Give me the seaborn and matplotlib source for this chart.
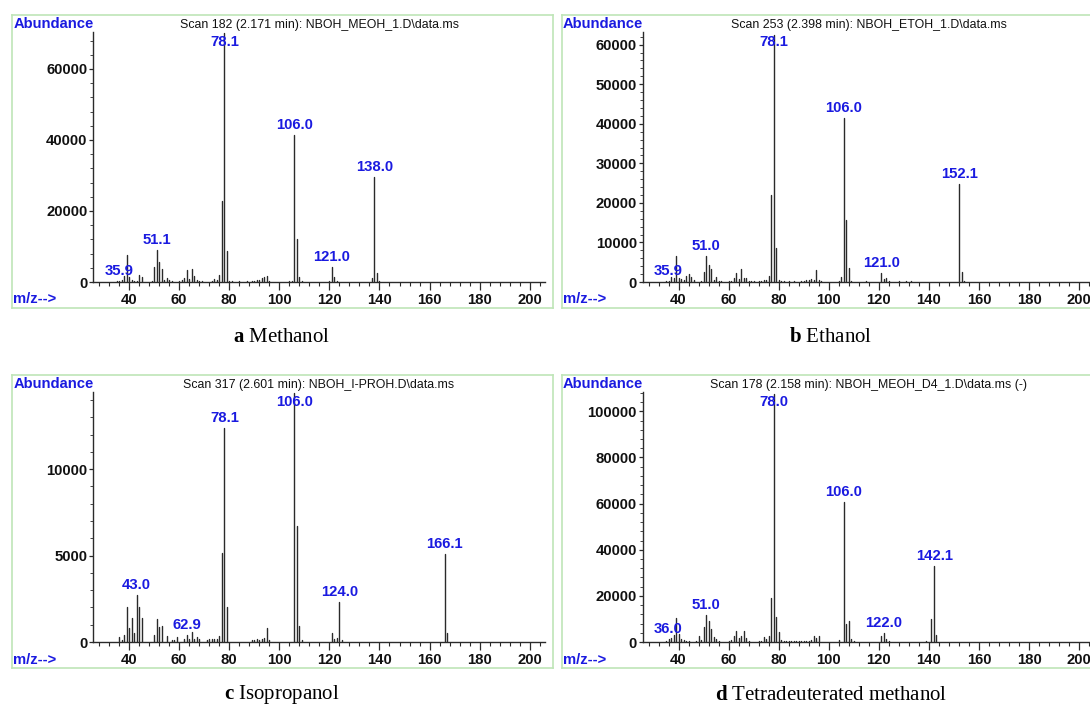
import matplotlib
matplotlib.use("Agg")
import matplotlib.pyplot as plt
from matplotlib.ticker import MultipleLocator, AutoMinorLocator, StrMethodFormatter
import numpy as np
import pandas as pd
import seaborn as sns

# ---------------- data ----------------
# (a) Methanol
mz_a = [35, 36, 37, 38, 39, 40, 41, 42, 43, 44, 45, 49, 50, 51, 52, 53, 54, 55, 56, 57,
        60, 61, 62, 63, 64, 65, 66, 67, 68, 69, 73, 74, 75, 76, 77, 78, 79, 80, 81, 84,
        87, 89, 90, 91, 92, 93, 94, 95, 96, 104, 105, 106, 107, 108, 109, 120, 121, 122,
        123, 137, 138, 139, 140]
ab_a = [200, 300, 600, 1600, 7500, 1400, 600, 400, 300, 2000, 1400, 200, 4100, 9000, 5700,
        3700, 600, 1000, 500, 200, 200, 600, 1200, 3500, 800, 3800, 1800, 700, 300, 300,
        300, 850, 600, 1900, 22900, 70000, 8600, 300, 200, 200, 200, 300, 400, 700, 500,
        1000, 1400, 1600, 300, 400, 300, 41500, 12200, 1300, 300, 200, 4100, 1500, 400,
        1200, 29600, 2600, 300]
labels_a = [35.9, 51.1, 78.1, 106.0, 121.0, 138.0]
title_a = "Scan 182 (2.171 min): NBOH_MEOH_1.D\\data.ms"

# (b) Ethanol
mz_b = [35, 36, 37, 38, 39, 40, 41, 42, 43, 44, 45, 46, 49, 50, 51, 52, 53, 54, 55, 56, 57,
        60, 61, 62, 63, 64, 65, 66, 67, 68, 69, 70, 72, 73, 74, 75, 76, 77, 78, 79, 80, 81,
        82, 84, 86, 89, 90, 91, 92, 93, 94, 95, 96, 97, 104, 105, 106, 107, 108, 109, 115,
        121, 122, 123, 124, 128, 131, 133, 152, 153, 154]
ab_b = [200, 300, 1200, 900, 6500, 1000, 800, 500, 1500, 2100, 1200, 400, 300, 2500, 6600,
        4200, 3400, 600, 1350, 300, 200, 200, 300, 900, 2400, 700, 3200, 1100, 900, 300,
        300, 300, 200, 300, 500, 400, 1400, 21900, 62500, 8600, 400, 300, 200, 200, 200,
        300, 300, 600, 400, 800, 600, 3000, 400, 200, 300, 1300, 41500, 15800, 3500, 300,
        200, 2200, 700, 900, 300, 200, 200, 200, 24800, 2500, 300]
labels_b = [35.9, 51.0, 78.1, 106.0, 121.0, 152.1]
title_b = "Scan 253 (2.398 min): NBOH_ETOH_1.D\\data.ms"

# (c) Isopropanol
mz_c = [36, 37, 38, 39, 40, 41, 42, 43, 44, 45, 50, 51, 52, 53, 55, 57, 58, 59, 62, 63, 64,
        65, 66, 67, 68, 71, 72, 73, 74, 75, 76, 77, 78, 79, 89, 90, 91, 92, 93, 94, 95, 96,
        106, 107, 108, 109, 121, 122, 123, 124, 125, 166, 167]
ab_c = [300, 100, 400, 2050, 800, 1400, 500, 2700, 2000, 1400, 420, 1350, 850, 920, 360, 100,
        130, 300, 150, 420, 200, 600, 200, 300, 150, 100, 150, 200, 150, 200, 350, 5150,
        12400, 2050, 100, 100, 200, 100, 150, 250, 800, 100, 14400, 6700, 950, 100, 500,
        200, 250, 2300, 100, 5100, 520]
labels_c = [43.0, 62.9, 78.1, 106.0, 124.0, 166.1]
title_c = "Scan 317 (2.601 min): NBOH_I-PROH.D\\data.ms"

# (d) Tetradeuterated methanol
mz_d = [35, 36, 37, 38, 39, 40, 41, 42, 43, 44, 45, 47, 48, 49, 50, 51, 52, 53, 54, 55, 56,
        57, 60, 61, 62, 63, 64, 65, 66, 67, 68, 72, 73, 74, 75, 76, 77, 78, 79, 80, 81, 82,
        83, 84, 85, 86, 87, 88, 89, 90, 91, 92, 93, 94, 95, 96, 104, 106, 107, 108, 109,
        110, 121, 122, 123, 124, 139, 141, 142, 143]
ab_d = [300, 1400, 1700, 3000, 10500, 3500, 1500, 800, 400, 300, 200, 300, 2700, 800, 6500,
        11700, 9100, 5500, 2000, 1200, 500, 200, 300, 800, 2700, 4800, 1800, 2800, 4800,
        1800, 600, 300, 500, 2000, 1500, 2800, 19000, 107500, 11000, 4500, 800, 500, 300,
        300, 300, 400, 300, 400, 400, 500, 600, 600, 800, 2700, 1800, 2500, 800, 60800,
        7600, 9200, 1500, 500, 2600, 3900, 1500, 600, 300, 10000, 32900, 3000]
labels_d = [36.0, 51.0, 78.0, 106.0, 122.0, 142.1]
title_d = "Scan 178 (2.158 min): NBOH_MEOH_D4_1.D\\data.ms (-)"

letters = ["a", "b", "c", "d"]
captions = ["Methanol", "Ethanol", "Isopropanol", "Tetradeuterated methanol"]
y_max = [70400, 63200, 14460, 108400]
y_step = [20000, 10000, 5000, 20000]
x_range = (25.6, 206.1)

# ---------------- style ----------------
sns.set_theme(style="ticks")
plt.rcParams["font.family"] = ["Liberation Sans", "DejaVu Sans"]
plt.rcParams["font.weight"] = "bold"
plt.rcParams["mathtext.fontset"] = "custom"
plt.rcParams["mathtext.rm"] = "Liberation Serif"
plt.rcParams["mathtext.bf"] = "Liberation Serif:bold"

W, H = 1090, 706
fig = plt.figure(figsize=(W / 100, H / 100), dpi=100, facecolor="white")

BLUE = "#1a1ae0"
GREEN = "#bfe5b8"
LINE = "#2a2a2a"

boxes = [(12, 14.5), (561.5, 14.5), (12, 374.5), (561.5, 374.5)]
BW, BH = 540.5, 293.5
caption_pos = [(282, 337), (831, 337), (282, 695), (831, 695)]

panels = [
    (mz_a, ab_a, labels_a, title_a),
    (mz_b, ab_b, labels_b, title_b),
    (mz_c, ab_c, labels_c, title_c),
    (mz_d, ab_d, labels_d, title_d),
]


def rect(l, t, w, h):
    return [l / W, 1 - (t + h) / H, w / W, h / H]


for i, (mz, ab, labels, title) in enumerate(panels):
    bx, by = boxes[i]
    # frame
    fa = fig.add_axes(rect(bx, by, BW, BH), zorder=0)
    fa.set_xticks([])
    fa.set_yticks([])
    fa.set_facecolor("white")
    for s in fa.spines.values():
        s.set_color(GREEN)
        s.set_linewidth(1.2)
    fa.text(1.5 / BW, 1 - 9.5 / BH, "Abundance", transform=fa.transAxes, ha="left",
            va="center", color=BLUE, fontsize=10.6, fontweight="bold")
    fa.text(1.5 / BW, 8.5 / BH, "m/z-->", transform=fa.transAxes, ha="left",
            va="center", color=BLUE, fontsize=10.6, fontweight="bold")
    fa.text((81 + 226) / BW, 1 - 10.5 / BH, title, transform=fa.transAxes, ha="center",
            va="center", color="#111111", fontsize=8.9, fontweight="normal")

    # data axes
    ax = fig.add_axes(rect(bx + 81, by + 17.5, 452, 250), zorder=2)
    ax.patch.set_alpha(0)
    rows = []
    for k, (m, a) in enumerate(zip(mz, ab)):
        rows.append({"mz": m, "abundance": 0, "peak": k})
        rows.append({"mz": m, "abundance": a, "peak": k})
    df = pd.DataFrame(rows)
    sns.lineplot(data=df, x="mz", y="abundance", units="peak", estimator=None,
                 sort=False, color=LINE, linewidth=1.0, ax=ax, legend=False)
    ax.set_xlim(*x_range)
    ax.set_ylim(0, y_max[i])
    ax.set_xlabel("")
    ax.set_ylabel("")
    ax.xaxis.set_major_locator(MultipleLocator(20))
    ax.xaxis.set_minor_locator(MultipleLocator(4))
    ax.yaxis.set_major_locator(MultipleLocator(y_step[i]))
    ax.yaxis.set_minor_locator(AutoMinorLocator(5))
    ax.yaxis.set_major_formatter(StrMethodFormatter("{x:.0f}"))
    for side in ("top", "right"):
        ax.spines[side].set_visible(False)
    for side in ("left", "bottom"):
        ax.spines[side].set_color(LINE)
        ax.spines[side].set_linewidth(1.0)
    ax.tick_params(axis="x", which="major", bottom=True, length=5.5, width=0.9,
                   direction="out", pad=2.5, labelsize=10.7, colors=LINE, labelcolor="#111111")
    ax.tick_params(axis="x", which="minor", bottom=True, length=3.2, width=0.8,
                   direction="out", colors=LINE)
    ax.tick_params(axis="y", which="major", left=True, length=3, width=0.9,
                   direction="out", pad=1, labelsize=10.7, colors=LINE, labelcolor="#111111")
    ax.tick_params(axis="y", which="minor", left=True, length=2, width=0.6,
                   direction="out", colors=LINE)

    lookup = dict(zip(mz, ab))
    for lbl in labels:
        val = lookup[int(round(lbl))]
        y = min(val, 0.92 * y_max[i])
        ax.annotate(f"{lbl:.1f}", xy=(lbl, y), xytext=(0, 2.2), textcoords="offset points",
                    ha="center", va="bottom", color=BLUE, fontsize=10.7, fontweight="bold",
                    annotation_clip=False)

    cx, cy = caption_pos[i]
    fig.text(cx / W, 1 - cy / H, r"$\mathbf{" + letters[i] + r"}$ " + captions[i],
             ha="center", va="center", family=["Liberation Serif"], fontsize=15,
             fontweight="normal", color="black")

fig.savefig("out.png", dpi=100, facecolor="white")
